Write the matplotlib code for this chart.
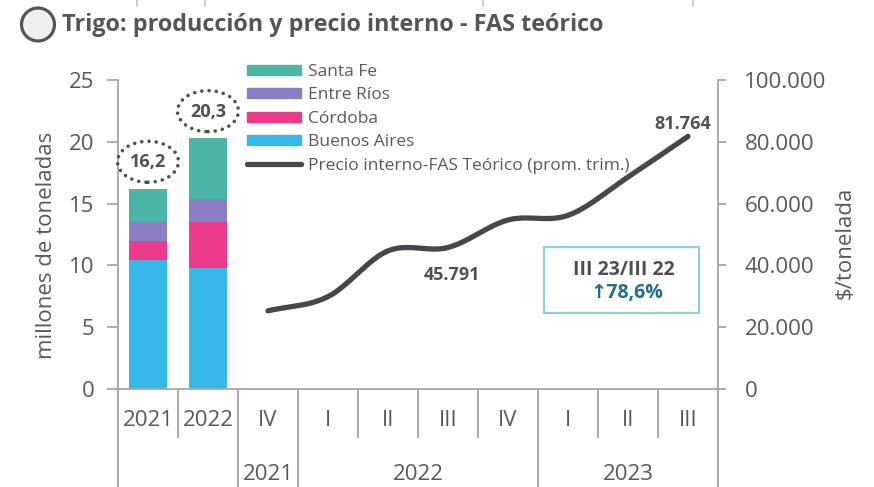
import matplotlib
matplotlib.use('Agg')
import matplotlib.pyplot as plt
import matplotlib.transforms as mtransforms
import numpy as np
from matplotlib.patches import Patch, Ellipse, Rectangle
from matplotlib.lines import Line2D
from matplotlib.ticker import FuncFormatter

plt.rcParams['font.family'] = ['Open Sans', 'DejaVu Sans']

# ---- data ----
categories = ['2021', '2022', 'IV', 'I', 'II', 'III', 'IV', 'I', 'II', 'III']
year_groups = [('2021', 2, 2), ('2022', 3, 6), ('2023', 7, 9)]

bar_years = [0, 1]
buenos_aires = [10.4, 9.8]
cordoba = [1.6, 3.7]
entre_rios = [1.5, 1.9]
santa_fe = [2.7, 4.9]
totals = [16.2, 20.3]

price_x = [2, 3, 4, 5, 6, 7, 8, 9]
price = [25300, 29900, 44700, 45791, 54700, 56200, 68600, 81764]

# ---- colours ----
c_ba = '#36b9e8'
c_cor = '#ec3b8b'
c_er = '#8b7ec5'
c_sf = '#4db5a8'
c_line = '#45474c'
c_txt = '#595959'
c_axis = '#a6a6a6'


def catmull_rom(xs, ys, n=24):
    xs = np.asarray(xs, float)
    ys = np.asarray(ys, float)
    px = np.concatenate([[2 * xs[0] - xs[1]], xs, [2 * xs[-1] - xs[-2]]])
    py = np.concatenate([[2 * ys[0] - ys[1]], ys, [2 * ys[-1] - ys[-2]]])
    out_x, out_y = [], []
    t = np.linspace(0, 1, n, endpoint=False)
    for i in range(1, len(px) - 2):
        for p, out in ((px, out_x), (py, out_y)):
            p0, p1, p2, p3 = p[i - 1], p[i], p[i + 1], p[i + 2]
            out.extend(0.5 * (2 * p1 + (-p0 + p2) * t
                              + (2 * p0 - 5 * p1 + 4 * p2 - p3) * t ** 2
                              + (-p0 + 3 * p1 - 3 * p2 + p3) * t ** 3))
    out_x.append(xs[-1])
    out_y.append(ys[-1])
    return np.array(out_x), np.array(out_y)


fig = plt.figure(figsize=(8.74, 4.87), dpi=100)
fig.patch.set_facecolor('white')

W, H = 874, 487
ax = fig.add_axes([118 / W, 1 - 389 / H, 600 / W, 309 / H])
ax2 = ax.twinx()

# stacked bars
width = 0.63
b1 = np.array(buenos_aires)
b2 = b1 + np.array(cordoba)
b3 = b2 + np.array(entre_rios)
ax.bar(bar_years, buenos_aires, width, color=c_ba, zorder=2)
ax.bar(bar_years, cordoba, width, bottom=b1, color=c_cor, zorder=2)
ax.bar(bar_years, entre_rios, width, bottom=b2, color=c_er, zorder=2)
ax.bar(bar_years, santa_fe, width, bottom=b3, color=c_sf, zorder=2)

ax.set_xlim(-0.5, 9.5)
ax.set_ylim(0, 25)

# totals with dotted ellipses (sized in pixels)
for x, t in zip(bar_years, totals):
    ax.annotate(f'{t:.1f}'.replace('.', ','), xy=(x, t), xytext=(0, 19),
                textcoords='offset points', ha='center', va='center',
                fontsize=13, fontweight='bold', color='#505050', zorder=6)
    tr = mtransforms.IdentityTransform() + mtransforms.ScaledTranslation(x, t, ax.transData)
    ax.add_patch(Ellipse((0, 27), 61, 41, transform=tr, fc='none', ec='#505050',
                         lw=2.6, ls=(0, (0.01, 2.0)), capstyle='round',
                         clip_on=False, zorder=5))

ax.set_yticks(range(0, 26, 5))
ax.set_xticks(range(len(categories)), labels=categories)
ax.tick_params(axis='x', length=0, pad=15, labelsize=16, labelcolor=c_txt)
ax.tick_params(axis='y', length=8, width=1.3, color=c_axis, pad=9,
               labelsize=16, labelcolor=c_txt)
for s in ['top', 'right']:
    ax.spines[s].set_visible(False)
for s in ['left', 'bottom']:
    ax.spines[s].set_color(c_axis)
    ax.spines[s].set_linewidth(1.3)

# price line
sx, sy = catmull_rom(price_x, price)
ax2.plot(sx, sy, color=c_line, lw=3.8, solid_capstyle='round', zorder=3)
ax2.set_ylim(0, 100000)
ax2.set_yticks(range(0, 100001, 20000))
ax2.yaxis.set_major_formatter(FuncFormatter(lambda v, p: f'{int(v):,}'.replace(',', '.')))
ax2.tick_params(axis='y', length=6, width=1.3, color=c_axis, pad=13,
                labelsize=16, labelcolor=c_txt)
for s in ['top', 'left', 'bottom']:
    ax2.spines[s].set_visible(False)
ax2.spines['right'].set_color(c_axis)
ax2.spines['right'].set_linewidth(1.3)

ax2.annotate(f'{price[-1]:,}'.replace(',', '.'), xy=(price_x[-1], price[-1]),
             xytext=(-4, 9), textcoords='offset points', ha='center', va='center',
             fontsize=13, fontweight='bold', color='#505050')
ax2.annotate(f'{price[3]:,}'.replace(',', '.'), xy=(price_x[3], price[3]),
             xytext=(3, -20), textcoords='offset points', ha='center', va='center',
             fontsize=13, fontweight='bold', color='#505050')

# variation box
ax2.add_patch(Rectangle(((544 - 118) / 600, (389 - 313) / 309), 155 / 600, 66 / 309,
                        transform=ax.transAxes, fc='white', ec='#8fd0e6', lw=1.6,
                        zorder=4, clip_on=False))
ax2.text(0.843, 0.385, 'III 23/III 22', transform=ax.transAxes, ha='center',
         va='center', fontsize=14, fontweight='bold', color='#505050', zorder=5)
ax2.text(0.848, 0.311, '↑78,6%', transform=ax.transAxes, ha='center',
         va='center', fontsize=14, fontweight='bold', color='#1f6f8b', zorder=5,
         family=['Open Sans', 'DejaVu Sans'])

# category separators and year row
trans = ax.get_xaxis_transform()
long_bounds = {-0.5, 1.5, 9.5} | {g[1] - 0.5 for g in year_groups}
for i in range(len(categories) + 1):
    b = i - 0.5
    y_end = -0.317 if b in long_bounds else -0.155
    ax.plot([b, b], [0, y_end], color=c_axis, lw=1.3, transform=trans, clip_on=False)
for label, a, b in year_groups:
    ax.text((a + b) / 2, -0.2945, label, transform=trans, ha='center',
            va='baseline', fontsize=16, color=c_txt)

# legend
handles = [Patch(color=c_sf), Patch(color=c_er), Patch(color=c_cor), Patch(color=c_ba),
           Line2D([0], [0], color=c_line, lw=3.8, solid_capstyle='round')]
labels = ['Santa Fe', 'Entre Ríos', 'Córdoba', 'Buenos Aires',
          'Precio interno-FAS Teórico (prom. trim.)']
fig.legend(handles, labels, loc='upper left', bbox_to_anchor=(247 / W, 1 - 64 / H),
           frameon=False, fontsize=12.5, labelcolor=c_txt, handlelength=3.1,
           handleheight=0.5, handletextpad=0.4, labelspacing=0.43, borderpad=0,
           borderaxespad=0)

# axis titles
fig.text(47 / W, 1 - 245 / H, 'millones de toneladas', rotation=90, ha='center',
         va='center', fontsize=16, color=c_txt)
fig.text(845 / W, 1 - 243 / H, '$/tonelada', rotation=90, ha='center',
         va='center', fontsize=16, color=c_txt)

# header
fig.add_artist(Ellipse((38 / W, 1 - 24.5 / H), 33 / W, 33 / H, transform=fig.transFigure,
                       fc='#efefef', ec='#555555', lw=2.3))
fig.text(62 / W, 1 - 25 / H, 'Trigo: producción y precio interno - FAS teórico',
         ha='left', va='center', fontsize=16.8, fontweight='bold', color='#555555')
for px in [137, 205, 483, 693]:
    fig.add_artist(Line2D([px / W, px / W], [1, 1 - 6 / H], transform=fig.transFigure,
                          color='#c8c8c8', lw=1.3))

fig.savefig('out.png', dpi=100, facecolor='white')
